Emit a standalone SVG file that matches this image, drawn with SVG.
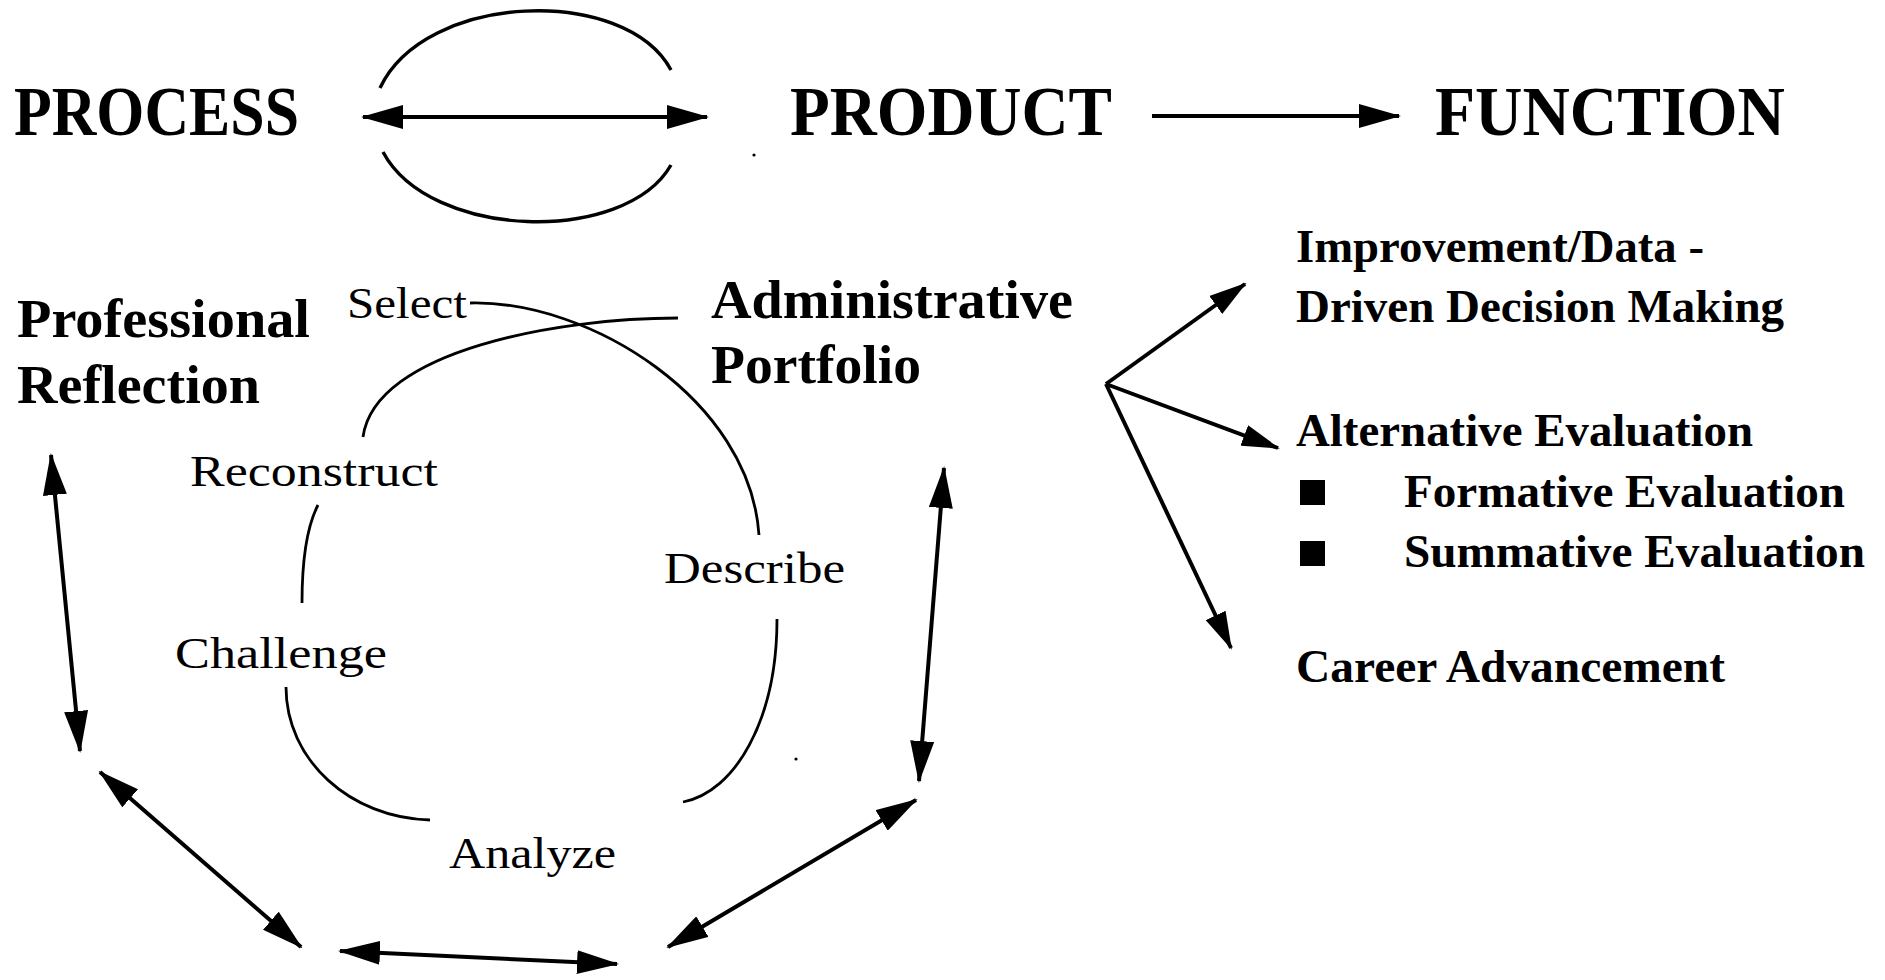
<svg xmlns="http://www.w3.org/2000/svg" width="1885" height="980" viewBox="0 0 1885 980">
  <style>
    .head { font-family: "Liberation Serif", "Times New Roman", serif; font-weight: bold; font-size: 69px; fill: #000; }
    .port { font-family: "Liberation Serif", "Times New Roman", serif; font-weight: bold; font-size: 55px; fill: #000; }
    .step { font-family: "Liberation Serif", "Times New Roman", serif; font-size: 44px; fill: #000; }
    .func { font-family: "Liberation Serif", "Times New Roman", serif; font-weight: bold; font-size: 46px; fill: #000; }
    .arrow { fill: none; stroke: #000; stroke-width: 4; }
    .arc { fill: none; stroke: #000; stroke-width: 3.4; }
    .cycle { fill: none; stroke: #000; stroke-width: 2.8; }
  </style>
  <defs>
    <marker id="tip" viewBox="0 0 42 24" markerWidth="42" markerHeight="24" refX="40" refY="12" orient="auto-start-reverse" markerUnits="userSpaceOnUse">
      <path d="M0,0 L42,12 L0,24 Z" fill="#000"/>
    </marker>
    <marker id="tipSmall" viewBox="0 0 38 22" markerWidth="38" markerHeight="22" refX="36" refY="11" orient="auto-start-reverse" markerUnits="userSpaceOnUse">
      <path d="M0,0 L38,11 L0,22 Z" fill="#000"/>
    </marker>
  </defs>

  <rect width="1885" height="980" fill="#fff"/>

  <!-- top row headings -->
  <g id="process"><text class="head" x="14" y="135" textLength="285" lengthAdjust="spacingAndGlyphs">PROCESS</text></g>
  <g id="product"><text class="head" x="790" y="135" textLength="322" lengthAdjust="spacingAndGlyphs">PRODUCT</text></g>
  <g id="function"><text class="head" x="1435" y="135" textLength="350" lengthAdjust="spacingAndGlyphs">FUNCTION</text></g>

  <!-- middle labels -->
  <g id="professional-reflection">
    <text class="port" x="17" y="337" textLength="293" lengthAdjust="spacingAndGlyphs">Professional</text>
    <text class="port" x="17" y="403" textLength="243" lengthAdjust="spacingAndGlyphs">Reflection</text>
  </g>
  <g id="administrative-portfolio">
    <text class="port" x="711" y="318" textLength="362" lengthAdjust="spacingAndGlyphs">Administrative</text>
    <text class="port" x="711" y="383" textLength="210" lengthAdjust="spacingAndGlyphs">Portfolio</text>
  </g>

  <!-- reflection cycle steps -->
  <g id="select"><text class="step" x="347" y="318" textLength="120" lengthAdjust="spacingAndGlyphs">Select</text></g>
  <g id="describe"><text class="step" x="664" y="583" textLength="181" lengthAdjust="spacingAndGlyphs">Describe</text></g>
  <g id="analyze"><text class="step" x="449" y="868" textLength="167" lengthAdjust="spacingAndGlyphs">Analyze</text></g>
  <g id="challenge"><text class="step" x="175" y="668" textLength="212" lengthAdjust="spacingAndGlyphs">Challenge</text></g>
  <g id="reconstruct"><text class="step" x="190" y="486" textLength="248" lengthAdjust="spacingAndGlyphs">Reconstruct</text></g>

  <!-- function outcomes -->
  <g id="improvement">
    <text class="func" x="1296" y="262" textLength="408" lengthAdjust="spacingAndGlyphs">Improvement/Data -</text>
    <text class="func" x="1296" y="322" textLength="488" lengthAdjust="spacingAndGlyphs">Driven Decision Making</text>
  </g>
  <g id="alternative-evaluation">
    <text class="func" x="1296" y="446" textLength="457" lengthAdjust="spacingAndGlyphs">Alternative Evaluation</text>
    <rect x="1300" y="480" width="25" height="25" fill="#000"/>
    <text class="func" x="1404" y="507" textLength="441" lengthAdjust="spacingAndGlyphs">Formative Evaluation</text>
    <rect x="1300" y="541" width="25" height="25" fill="#000"/>
    <text class="func" x="1404" y="567" textLength="461" lengthAdjust="spacingAndGlyphs">Summative Evaluation</text>
  </g>
  <g id="career"><text class="func" x="1296" y="682" textLength="429" lengthAdjust="spacingAndGlyphs">Career Advancement</text></g>

  <!-- connectors -->
  <g id="connectors">
    <!-- process / product exchange -->
    <path class="arrow" d="M363 117 L707 117" marker-start="url(#tip)" marker-end="url(#tip)"/>
    <path class="arc" d="M380 88 C425 -8 625 -15 671 70"/>
    <path class="arc" d="M383 152 C430 240 625 245 671 165"/>
    <!-- product to function -->
    <path class="arrow" d="M1152 116 L1399 116" marker-end="url(#tip)"/>

    <!-- reflection cycle strokes -->
    <path class="cycle" d="M470 303 C590 300 750 400 759 535"/>
    <path class="cycle" d="M678 318 C560 318 375 350 363 437"/>
    <path class="cycle" d="M318 505 C305 530 302 570 302 603"/>
    <path class="cycle" d="M286 687 C286 760 350 818 430 820"/>
    <path class="cycle" d="M777 619 C777 720 735 792 683 802"/>

    <!-- links around the cycle -->
    <path class="arrow" d="M51 455 L80 751" marker-start="url(#tip)" marker-end="url(#tip)"/>
    <path class="arrow" d="M944 468 L919 781" marker-start="url(#tip)" marker-end="url(#tip)"/>
    <path class="arrow" d="M100 772 L301 947" marker-start="url(#tip)" marker-end="url(#tip)"/>
    <path class="arrow" d="M340 951 L617 964" marker-start="url(#tip)" marker-end="url(#tip)"/>
    <path class="arrow" d="M916 800 L668 947" marker-start="url(#tip)" marker-end="url(#tip)"/>

    <!-- portfolio to functions -->
    <path class="arrow" d="M1106 384 L1245 284" marker-end="url(#tipSmall)"/>
    <path class="arrow" d="M1106 384 L1278 448" marker-end="url(#tipSmall)"/>
    <path class="arrow" d="M1106 384 L1231 648" marker-end="url(#tipSmall)"/>
  </g>

  <!-- specks -->
  <circle cx="754" cy="155" r="1.6" fill="#000"/>
  <circle cx="796" cy="759" r="1.6" fill="#000"/>
</svg>
